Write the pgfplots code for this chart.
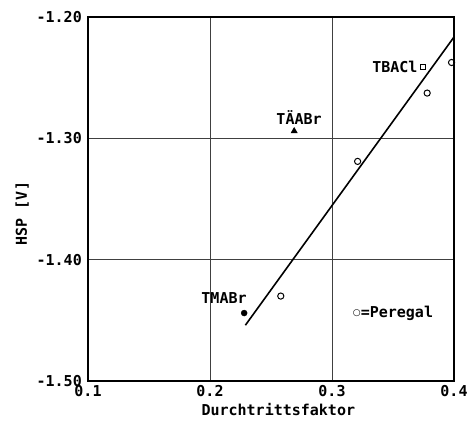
\documentclass[border=0pt]{standalone}
\usepackage{fontspec}
\setmainfont{DejaVu Sans Mono}[BoldFont={DejaVu Sans Mono Bold}]
\newfontfamily\symfont{DejaVu Sans}
\usepackage{pgfplots}
\pgfplotsset{compat=1.18}
\newcommand{\lf}{\fontsize{15bp}{18bp}\selectfont\bfseries}
\begin{document}
\lf
\begin{tikzpicture}[x=1bp,y=1bp,every node/.append style={font=\lf}]
\path[use as bounding box] (-88,-39) rectangle (383,381);
\begin{axis}[
  at={(0,0)}, anchor=south west,
  scale only axis, width=366bp, height=364bp,
  xmin=0.1, xmax=0.4, ymin=-1.5, ymax=-1.2,
  xtick={0.1,0.2,0.3,0.4}, xticklabels={0.1,0.2,0.3,0.4},
  ytick={-1.5,-1.4,-1.3,-1.2}, yticklabels={-1.50,-1.40,-1.30,-1.20},
  grid=major, major grid style={black!75, line width=0.7bp},
  major tick length=0pt,
  axis line style={line width=1.4bp},
  tick label style={font=\lf},
  label style={font=\lf},
  xticklabel style={yshift=1bp},
  yticklabel style={xshift=-1bp},
  xlabel={Durchtrittsfaktor},
  ylabel={HSP [V]},
  xlabel style={at={(axis description cs:0.52,-0.058)}, anchor=north, inner sep=1bp},
  ylabel style={at={(axis description cs:-0.18,0.46)}, anchor=center},
  clip=false,
]
\addplot[black, line width=1.6bp] coordinates {(0.229,-1.454) (0.400,-1.2165)};
\addplot[only marks, mark=o, mark size=3.1bp, black, mark options={line width=1bp}] coordinates {
  (0.398,-1.2375) (0.378,-1.2627) (0.321,-1.319) (0.258,-1.430)};
\addplot[only marks, mark=square, mark size=2.6bp, black, mark options={line width=1bp}] coordinates {(0.3746,-1.241)};
\addplot[only marks, mark=triangle*, mark size=3.6bp, black] coordinates {(0.269,-1.294)};
\addplot[only marks, mark=*, mark size=3bp, black] coordinates {(0.228,-1.444)};
\node[anchor=east, inner sep=1bp] at (axis cs:0.371,-1.241) {TBACl};
\node[anchor=center] at (axis cs:0.273,-1.283) {TÄABr};
\node[anchor=south east, inner sep=1bp] at (axis cs:0.231,-1.437) {TMABr};
\node[anchor=west, inner sep=0bp] at (axis cs:0.317,-1.444) {\raisebox{1.8bp}{\symfont\fontsize{9bp}{9bp}\selectfont ○}=Peregal};
\end{axis}
\end{tikzpicture}
\end{document}
